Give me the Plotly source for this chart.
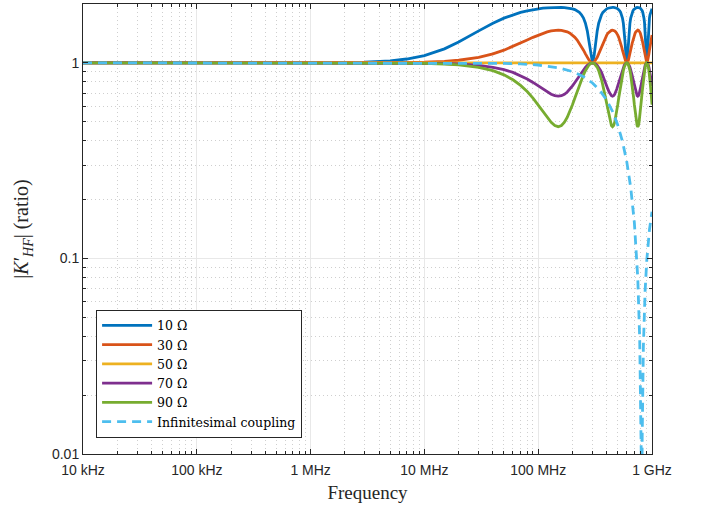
import plotly.graph_objects as go

# ---------------- data ----------------
freq_hz = [1e4, 1e5, 1e6, 2e6, 3e6, 5e6, 7e6, 1e7, 1.5e7, 2e7,
           3e7, 4e7, 5e7, 6e7, 7e7, 8e7, 9e7, 1.0e8, 1.1e8, 1.2e8, 1.3e8, 1.4e8, 1.5e8,
           1.6e8, 1.7e8, 1.8e8, 1.9e8, 2.0e8, 2.1e8, 2.2e8, 2.3e8, 2.4e8, 2.5e8, 2.6e8, 2.7e8, 2.8e8, 2.9e8, 3.0e8,
           3.1e8, 3.2e8, 3.3e8, 3.4e8, 3.5e8, 3.6e8, 3.7e8, 3.8e8, 3.9e8, 4.0e8, 4.1e8, 4.2e8, 4.3e8, 4.4e8, 4.5e8,
           4.6e8, 4.7e8, 4.8e8, 4.9e8, 5.0e8, 5.1e8, 5.2e8, 5.3e8, 5.4e8, 5.5e8, 5.6e8, 5.7e8, 5.8e8, 5.9e8, 6.0e8,
           6.1e8, 6.2e8, 6.3e8, 6.4e8, 6.5e8, 6.6e8, 6.7e8, 6.8e8, 6.9e8, 7.0e8, 7.1e8, 7.2e8, 7.3e8, 7.4e8, 7.5e8,
           7.6e8, 7.7e8, 7.8e8, 7.9e8, 8.0e8, 8.1e8, 8.2e8, 8.3e8, 8.4e8, 8.5e8, 8.6e8, 8.7e8, 8.8e8, 8.9e8, 9.0e8,
           9.1e8, 9.2e8, 9.3e8, 9.4e8, 9.5e8, 9.6e8, 9.7e8, 9.8e8, 9.9e8, 1.0e9]

k_10ohm = [1.0000, 1.0000, 1.0010, 1.0040, 1.0089, 1.0243, 1.0464, 1.0897, 1.1795, 1.2772,
           1.4573, 1.5954, 1.6938, 1.7628, 1.8116, 1.8464, 1.8716, 1.8898, 1.9030, 1.9122, 1.9184, 1.9219, 1.9231,
           1.9219, 1.9184, 1.9122, 1.9030, 1.8898, 1.8716, 1.8464, 1.8116, 1.7628, 1.6938, 1.5954, 1.4573, 1.2772, 1.0897, 1.0000,
           1.0897, 1.2772, 1.4573, 1.5954, 1.6938, 1.7628, 1.8116, 1.8464, 1.8716, 1.8898, 1.9030, 1.9122, 1.9184, 1.9219, 1.9231,
           1.9219, 1.9184, 1.9122, 1.9030, 1.8898, 1.8716, 1.8464, 1.8116, 1.7628, 1.6938, 1.5954, 1.4573, 1.2772, 1.0897, 1.0000,
           1.0897, 1.2772, 1.4573, 1.5954, 1.6938, 1.7628, 1.8116, 1.8464, 1.8716, 1.8898, 1.9030, 1.9122, 1.9184, 1.9219, 1.9231,
           1.9219, 1.9184, 1.9122, 1.9030, 1.8898, 1.8716, 1.8464, 1.8116, 1.7628, 1.6938, 1.5954, 1.4573, 1.2772, 1.0897, 1.0000,
           1.0897, 1.2772, 1.4573, 1.5954, 1.6938, 1.7628, 1.8116, 1.8464, 1.8716, 1.8898]

k_30ohm = [1.0000, 1.0000, 1.0001, 1.0003, 1.0007, 1.0020, 1.0040, 1.0081, 1.0180, 1.0314,
           1.0672, 1.1117, 1.1613, 1.2123, 1.2622, 1.3087, 1.3506, 1.3868, 1.4168, 1.4402, 1.4571, 1.4672, 1.4706,
           1.4672, 1.4571, 1.4402, 1.4168, 1.3868, 1.3506, 1.3087, 1.2622, 1.2123, 1.1613, 1.1117, 1.0672, 1.0314, 1.0081, 1.0000,
           1.0081, 1.0314, 1.0672, 1.1117, 1.1613, 1.2123, 1.2622, 1.3087, 1.3506, 1.3868, 1.4168, 1.4402, 1.4571, 1.4672, 1.4706,
           1.4672, 1.4571, 1.4402, 1.4168, 1.3868, 1.3506, 1.3087, 1.2622, 1.2123, 1.1613, 1.1117, 1.0672, 1.0314, 1.0081, 1.0000,
           1.0081, 1.0314, 1.0672, 1.1117, 1.1613, 1.2123, 1.2622, 1.3087, 1.3506, 1.3868, 1.4168, 1.4402, 1.4571, 1.4672, 1.4706,
           1.4672, 1.4571, 1.4402, 1.4168, 1.3868, 1.3506, 1.3087, 1.2622, 1.2123, 1.1613, 1.1117, 1.0672, 1.0314, 1.0081, 1.0000,
           1.0081, 1.0314, 1.0672, 1.1117, 1.1613, 1.2123, 1.2622, 1.3087, 1.3506, 1.3868]

k_50ohm = [1.0] * 108

k_70ohm = [1.0000, 1.0000, 1.0000, 0.9999, 0.9997, 0.9992, 0.9984, 0.9967, 0.9926, 0.9869,
           0.9709, 0.9494, 0.9233, 0.8935, 0.8612, 0.8277, 0.7943, 0.7625, 0.7338, 0.7095, 0.6911, 0.6796, 0.6757,
           0.6796, 0.6911, 0.7095, 0.7338, 0.7625, 0.7943, 0.8277, 0.8612, 0.8935, 0.9233, 0.9494, 0.9709, 0.9869, 0.9967, 1.0000,
           0.9967, 0.9869, 0.9709, 0.9494, 0.9233, 0.8935, 0.8612, 0.8277, 0.7943, 0.7625, 0.7338, 0.7095, 0.6911, 0.6796, 0.6757,
           0.6796, 0.6911, 0.7095, 0.7338, 0.7625, 0.7943, 0.8277, 0.8612, 0.8935, 0.9233, 0.9494, 0.9709, 0.9869, 0.9967, 1.0000,
           0.9967, 0.9869, 0.9709, 0.9494, 0.9233, 0.8935, 0.8612, 0.8277, 0.7943, 0.7625, 0.7338, 0.7095, 0.6911, 0.6796, 0.6757,
           0.6796, 0.6911, 0.7095, 0.7338, 0.7625, 0.7943, 0.8277, 0.8612, 0.8935, 0.9233, 0.9494, 0.9709, 0.9869, 0.9967, 1.0000,
           0.9967, 0.9869, 0.9709, 0.9494, 0.9233, 0.8935, 0.8612, 0.8277, 0.7943, 0.7625]

k_90ohm = [1.0000, 1.0000, 0.9999, 0.9998, 0.9995, 0.9985, 0.9971, 0.9941, 0.9868, 0.9768,
           0.9490, 0.9123, 0.8684, 0.8194, 0.7671, 0.7137, 0.6609, 0.6109, 0.5654, 0.5268, 0.4970, 0.4782, 0.4717,
           0.4782, 0.4970, 0.5268, 0.5654, 0.6109, 0.6609, 0.7137, 0.7671, 0.8194, 0.8684, 0.9123, 0.9490, 0.9768, 0.9941, 1.0000,
           0.9941, 0.9768, 0.9490, 0.9123, 0.8684, 0.8194, 0.7671, 0.7137, 0.6609, 0.6109, 0.5654, 0.5268, 0.4970, 0.4782, 0.4717,
           0.4782, 0.4970, 0.5268, 0.5654, 0.6109, 0.6609, 0.7137, 0.7671, 0.8194, 0.8684, 0.9123, 0.9490, 0.9768, 0.9941, 1.0000,
           0.9941, 0.9768, 0.9490, 0.9123, 0.8684, 0.8194, 0.7671, 0.7137, 0.6609, 0.6109, 0.5654, 0.5268, 0.4970, 0.4782, 0.4717,
           0.4782, 0.4970, 0.5268, 0.5654, 0.6109, 0.6609, 0.7137, 0.7671, 0.8194, 0.8684, 0.9123, 0.9490, 0.9768, 0.9941, 1.0000,
           0.9941, 0.9768, 0.9490, 0.9123, 0.8684, 0.8194, 0.7671, 0.7137, 0.6609, 0.6109]

freq_coupling_hz = [1e4, 1e6, 1e7, 2e7, 3e7, 5e7, 7e7, 1e8, 1.5e8, 2e8, 2.5e8, 3e8, 3.5e8, 4e8,
                    4.5e8, 5e8, 5.5e8, 6e8, 6.5e8, 7e8, 7.5e8, 7.8e8, 8e8, 8.05e8,
                    8.15e8, 8.2e8, 8.4e8, 8.7e8, 9e8, 9.5e8, 1e9]
k_coupling = [1.0000, 1.0000, 0.99975, 0.9990, 0.9977, 0.9938, 0.9878, 0.9751, 0.9445, 0.9027,
              0.8505, 0.7892, 0.7200, 0.6445, 0.5643, 0.4811, 0.3966, 0.3126, 0.2307, 0.1524,
              0.0793, 0.0384, 0.0125, 0.0062, 0.0061, 0.0122, 0.0356, 0.0683, 0.0980, 0.1402, 0.1733]

series_names = ["10 Ω", "30 Ω", "50 Ω", "70 Ω", "90 Ω"]
series_values = [k_10ohm, k_30ohm, k_50ohm, k_70ohm, k_90ohm]
coupling_name = "Infinitesimal coupling"

x_tick_vals = [1e4, 1e5, 1e6, 1e7, 1e8, 1e9]
x_tick_text = ["10 kHz", "100 kHz", "1 MHz", "10 MHz", "100 MHz", "1 GHz"]
y_tick_vals = [0.01, 0.1, 1]
y_tick_text = ["0.01", "0.1", "1"]

# ---------------- styling ----------------
colors = ["#0072BD", "#D95319", "#EDB120", "#7E2F8E", "#77AC30"]
coupling_color = "#4DBEEE"
serif = "Liberation Serif, DejaVu Serif, serif"
legend_serif = "DejaVu Serif, Liberation Serif, serif"
sans = "Liberation Sans, Arial, sans-serif"

fig = go.Figure()
for name, vals, col in zip(series_names, series_values, colors):
    fig.add_trace(go.Scatter(x=freq_hz, y=vals, mode="lines", name=name,
                             line=dict(color=col, width=2.8)))
fig.add_trace(go.Scatter(x=freq_coupling_hz, y=k_coupling, mode="lines", name=coupling_name,
                         line=dict(color=coupling_color, width=2.8, dash="9px,6px")))

x_minor = [m * 10 ** e for e in range(4, 9) for m in range(2, 10)]
y_minor = [m * 10 ** e for e in range(-2, 1) for m in range(2, 10)]

axis_common = dict(
    type="log", showline=True, linecolor="#262626", linewidth=1, mirror="allticks",
    ticks="inside", ticklen=5, tickcolor="#262626",
    showgrid=True, gridcolor="#e8e8e8", gridwidth=1, zeroline=False,
    tickfont=dict(family=sans, size=14, color="#262626"),
    automargin=False,
)
minor_common = dict(tickmode="array", ticks="inside", ticklen=3, tickcolor="#262626",
                    showgrid=True, gridcolor="#cfcfcf", griddash="1px,3px", gridwidth=1)

fig.update_xaxes(**axis_common, range=[4, 9], tickmode="array",
                 tickvals=x_tick_vals, ticktext=x_tick_text, ticklabelstandoff=3,
                 minor=dict(tickvals=x_minor, **minor_common),
                 title=dict(text="Frequency", font=dict(family=serif, size=19, color="#262626"),
                            standoff=8))
fig.update_yaxes(**axis_common, range=[-2, 0.301], tickmode="array",
                 tickvals=y_tick_vals, ticktext=y_tick_text,
                 minor=dict(tickvals=y_minor, **minor_common),
                 title=dict(text="|<i>K</i>′<sub><i>HF</i></sub>| (ratio)",
                            font=dict(family=serif, size=20, color="#262626"), standoff=17))

fig.update_layout(
    width=702, height=508,
    margin=dict(l=83, r=50, t=4, b=54),
    paper_bgcolor="white", plot_bgcolor="white",
    showlegend=True,
    legend=dict(x=0.023, y=0.036, xanchor="left", yanchor="bottom",
                bgcolor="white", bordercolor="#262626", borderwidth=1,
                font=dict(family=legend_serif, size=12.5, color="#000000"),
                tracegroupgap=0, itemwidth=50),
)

fig.write_html("out.html", config={"displayModeBar": False},
               post_script="document.body.style.margin='0';document.body.style.overflow='hidden';")
